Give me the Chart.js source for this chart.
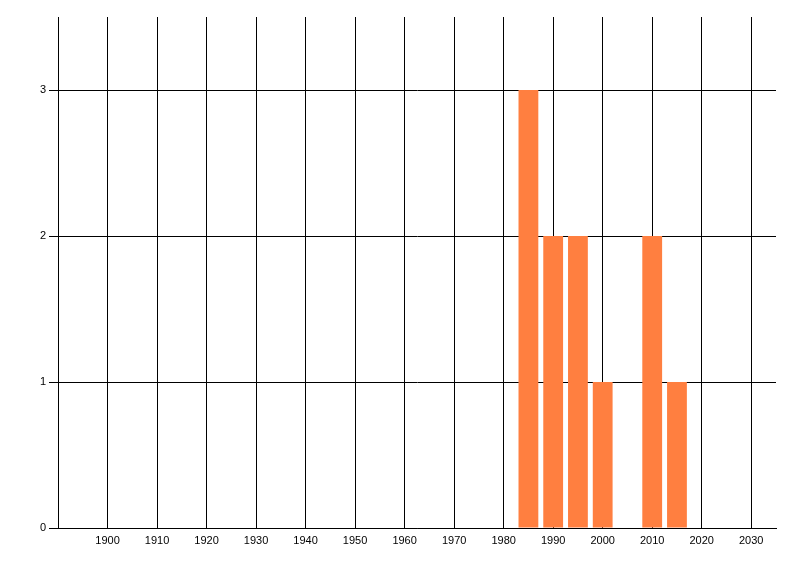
<!DOCTYPE html>
<html>
<head>
<meta charset="utf-8">
<script src="https://cdn.jsdelivr.net/npm/chart.js@4/dist/chart.umd.min.js"></script>
<style>
html,body{margin:0;padding:0;background:#fff;}
#wrap{width:800px;height:576px;}
</style>
</head>
<body>
<div id="wrap"><canvas id="c" width="800" height="576"></canvas></div>
<script>
const years = [1985, 1990, 1995, 2000, 2010, 2015];
const counts = [3, 2, 2, 1, 2, 1];
const xTicks = [1900, 1910, 1920, 1930, 1940, 1950, 1960, 1970, 1980, 1990, 2000, 2010, 2020, 2030];
const yTicks = [0, 1, 2, 3];

const font = {family: "'Liberation Sans', Arial, sans-serif", size: 11};

new Chart(document.getElementById('c'), {
  type: 'bar',
  data: {
    datasets: [{
      data: years.map((y, i) => ({x: y, y: counts[i]})),
      backgroundColor: '#ff7f40',
      borderWidth: 0,
      categoryPercentage: 1,
      barPercentage: 0.8
    }]
  },
  options: {
    responsive: false,
    animation: false,
    devicePixelRatio: 1,
    layout: {padding: {top: 17, right: 24, left: 0, bottom: 0}},
    plugins: {legend: {display: false}, tooltip: {enabled: false}},
    scales: {
      x: {
        type: 'linear',
        offset: false,
        min: 1890,
        max: 2035,
        afterBuildTicks: s => { s.ticks = xTicks.map(v => ({value: v})); },
        afterFit: s => { s.height = 48; },
        grid: {color: '#000', lineWidth: 1, drawTicks: false, offset: false},
        border: {color: '#000', width: 1},
        ticks: {color: '#000', font: font, padding: 6, maxRotation: 0, autoSkip: false,
                callback: v => String(v)}
      },
      y: {
        type: 'linear',
        min: 0,
        max: 3.5,
        afterBuildTicks: s => { s.ticks = yTicks.map(v => ({value: v})); },
        afterFit: s => { s.width = 58; },
        grid: {color: '#000', lineWidth: 1, drawTicks: true, tickLength: 9},
        border: {color: '#000', width: 1},
        ticks: {color: '#000', font: font, padding: 3}
      }
    }
  }
});
</script>
</body>
</html>
